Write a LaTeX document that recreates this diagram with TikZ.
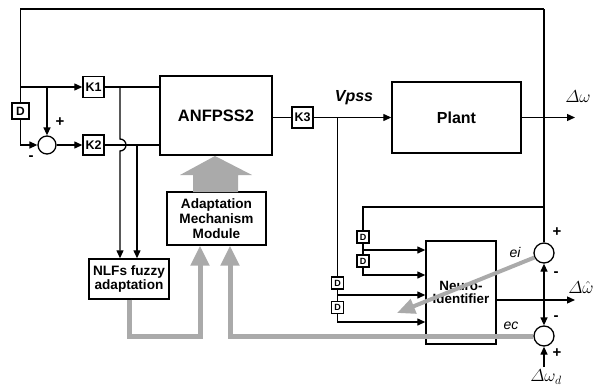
\documentclass[tikz,border=0pt]{standalone}
\usepackage{fontspec}
\usepackage{amsmath}
\setmainfont{Liberation Sans}
\usetikzlibrary{arrows.meta}
\definecolor{greyarrow}{RGB}{170,170,170}
\newcommand{\fsz}[1]{\fontsize{#1}{#1}\selectfont}
\begin{document}
\begin{tikzpicture}[x=1pt,y=-1pt,line width=1.3pt,
  blk/.style={draw,line width=1.4pt,inner sep=0pt,align=center,font=\bfseries},
  bigbox/.style={blk,font=\fsz{16.5}\bfseries},
  kbox/.style={blk,minimum width=21pt,minimum height=21pt,font=\fsz{12.5}\bfseries},
  dbox/.style={blk,minimum width=17pt,minimum height=16pt,font=\fsz{12}\bfseries},
  sdbox/.style={blk,line width=1.1pt,minimum width=12pt,minimum height=12pt,font=\fsz{9}\bfseries},
  midbox/.style={blk,font=\fsz{13.6}\bfseries},
  sumc/.style={draw,circle,line width=1.3pt,inner sep=0pt},
  sgn/.style={font=\fsz{15}\bfseries,inner sep=0pt},
  lab/.style={inner sep=0pt},
  arr/.style={-{Triangle[length=8pt,width=7pt]}},
  garrow/.style={draw=greyarrow,line width=5pt,line join=miter,-{Triangle[length=20pt,width=18pt]}}
]
\useasboundingbox (0,0) rectangle (605,388);
% blocks
\node[bigbox,minimum width=112pt,minimum height=79pt] (A) at (216,115.5) {ANFPSS2};
\node[bigbox,minimum width=129pt,minimum height=71pt,font=\fsz{16}\bfseries] (P) at (456.5,117.5) {Plant};
\node[kbox] (K1) at (93.5,87) {K1};
\node[kbox,minimum height=20pt] (K2) at (93.5,145) {K2};
\node[kbox] (K3) at (302.5,117.5) {K3};
\node[dbox] (D0) at (20.5,111) {D};
\node[sumc,minimum size=18pt] (s1) at (47,145) {};
\node[midbox,minimum width=80pt,minimum height=40pt] (N) at (129,279) {NLFs fuzzy\\[1pt]adaptation};
\node[midbox,minimum width=99pt,minimum height=53pt] (AM) at (216.5,218.5) {Adaptation\\[1.5pt]Mechanism\\[1.5pt]Module};
\node[midbox,minimum width=70pt,minimum height=103pt,font=\fsz{13.4}\bfseries] (NI) at (461,292.5) {Neuro-\\[0pt]Identifier};
\node[sdbox] (D1) at (363,237) {D};
\node[sdbox] (D2) at (363,261) {D};
\node[sdbox] (D3) at (337.5,283) {D};
\node[sdbox] (D4) at (337.5,307.5) {D};
\node[sumc,minimum size=20pt] (e1) at (544,253) {};
\node[sumc,minimum size=20pt] (e2) at (544,336) {};
% coordinates
\coordinate (tl) at (20.5,9);
\coordinate (tr) at (544,9);
\coordinate (j1) at (20.5,87);
\coordinate (j2) at (47,87);
\coordinate (h1) at (120,87);
\coordinate (h2) at (137,145);
\coordinate (v1) at (337.5,117.5);
\coordinate (out) at (575,117.5);
\coordinate (u0) at (544,207);
\coordinate (q1) at (363,250);
\coordinate (q2) at (363,275);
\coordinate (q3) at (337.5,295);
\coordinate (q4) at (337.5,322);
\coordinate (jo) at (544,300);
\coordinate (o2) at (575,300);
\coordinate (wd) at (544,367);
\coordinate (g1) at (230,336);
\coordinate (g2) at (200,336);
\coordinate (gt) at (397,313);
% left part
\draw (tr) -- (tl) -- (D0.north);
\draw[arr] (j1) -- (K1.west);
\draw[arr] (j2) -- (s1.north);
\draw[arr] (D0.south) |- (s1.west);
\draw[arr] (s1.east) -- (K2.west);
\draw (K1.east) -- (K1.east -| A.west);
\draw (K2.east) -- (K2.east -| A.west);
\draw[arr] (h1) -- (120,139) arc(-90:90:6) -- (h1 |- N.north);
\draw[arr] (h2) -- (h2 |- N.north);
% middle
\draw (K3.west -| A.east) -- (K3.west);
\draw[arr] (K3.east) -- (P.west);
\draw[arr] (P.east) -- (out);
\draw (tr) -- (e1.north);
\draw (u0) -| (D1.north);
\draw (D1.south) -- (q1) -- (D2.north);
\draw[arr] (q1) -- (q1 -| NI.west);
\draw[arr] (D2.south) -- (q2) -- (q2 -| NI.west);
\draw (v1) -- (D3.north);
\draw (D3.south) -- (q3) -- (D4.north);
\draw[arr] (q3) -- (q3 -| NI.west);
\draw[arr] (D4.south) -- (q4) -- (q4 -| NI.west);
\draw[arr] (o2 -| NI.east) -- (o2);
\draw[arr] (jo) -- (e1.south);
\draw[arr] (jo) -- (e2.north);
\draw[arr] (wd) -- (e2.south);
% grey arrows
\fill[greyarrow] (193,192) -- (193,175) -- (180,175) -- (215,156) -- (252,175) -- (238,175) -- (238,192) -- cycle;
\draw[garrow] (e2.west) -- (g1) -- (g1 |- AM.south);
\draw[garrow] (N.south) -- (N.south |- g2) -- (g2) -- (g2 |- AM.south);
\draw[garrow,line width=4pt,-{Triangle[length=18pt,width=15pt]}] (e1.205) -- (gt);
% labels
\node[sgn] (p1) at (60,122) {+};
\node[sgn] (m1) at (31,158) {-};
\node[lab,font=\fsz{16}\bfseries\itshape] (vp) at (354,98) {Vpss};
\node[lab,font=\fsz{17}] (dw) at (578,97) {$\varDelta\omega$};
\node[lab,font=\fsz{17}] (dwh) at (581,287) {$\varDelta\hat{\omega}$};
\node[lab,font=\fsz{17}] (dwd) at (546,377) {$\varDelta\omega_{d}$};
\node[lab,font=\fsz{14}\itshape] (ei) at (515,252) {ei};
\node[lab,font=\fsz{14}\itshape] (ec) at (511,326) {ec};
\node[sgn] (p2) at (557,232) {+};
\node[sgn] (m2) at (556,274) {-};
\node[sgn] (m3) at (556,318) {-};
\node[sgn] (p3) at (557,353) {+};
\end{tikzpicture}
\end{document}
